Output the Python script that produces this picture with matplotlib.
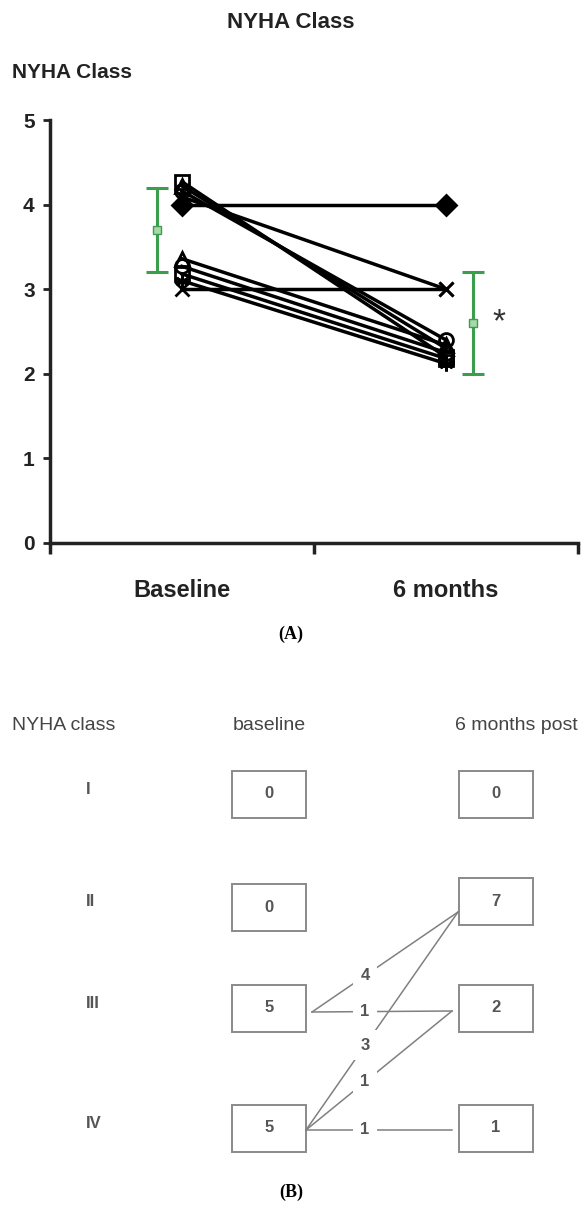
import numpy as np
import matplotlib.pyplot as plt
from matplotlib.patches import Rectangle

plt.rcParams['font.family'] = ['Liberation Sans', 'DejaVu Sans']

# Panel A: individual NYHA class, baseline vs 6 months (points offset so lines stay visible)
baseline_vals = [4.00, 4.09, 4.16, 4.22, 4.27, 3.00, 3.10, 3.18, 3.27, 3.36]
month6_vals = [4.00, 3.00, 2.40, 2.30, 2.20, 3.00, 2.12, 2.18, 2.25, 2.34]
markers = ['D', 'x', 'o', '^', 's', 'x', (6, 2, 0), 's', 'o', '^']
group_labels = ['Baseline', '6 months']
mean_vals = [3.7, 2.6]
sd_vals = [0.5, 0.6]

# Panel B: NYHA class counts and shifts between visits
classes = ['I', 'II', 'III', 'IV']
baseline_counts = [0, 0, 5, 5]
post_counts = [0, 7, 2, 1]
# (baseline class index, 6-month class index, patients)
shifts = [(2, 1, 4), (2, 2, 1), (3, 1, 3), (3, 2, 1), (3, 3, 1)]

W, H = 584, 1209
fig = plt.figure(figsize=(W / 100, H / 100), dpi=100)

# ---- panel A ----
ax = fig.add_axes([50 / W, 1 - 543 / H, 528 / W, 423 / H])
for b, m, mk in zip(baseline_vals, month6_vals, markers):
    filled = mk == 'D'
    ax.plot([1, 2], [b, m], color='k', lw=2.5, marker=mk, ms=10,
            mfc='k' if filled else 'none', mec='k', mew=2, zorder=3)

green = '#3a9e4c'
ax.errorbar([0.905, 2.102], mean_vals, yerr=sd_vals, fmt='s', color=green,
            ms=6, mfc='#a8d8a8', mec=green, lw=2.2, capsize=8, capthick=2.2, zorder=4)
ax.text(2.2, mean_vals[1], '*', fontsize=24, color='#333333', ha='center', va='center')

ax.set_xlim(0.5, 2.5)
ax.set_ylim(0, 5)
for s in ['top', 'right']:
    ax.spines[s].set_visible(False)
for s in ['left', 'bottom']:
    ax.spines[s].set_linewidth(2.5)
    ax.spines[s].set_color('#222222')
ax.set_yticks(range(6))
ax.set_yticklabels([str(i) for i in range(6)], fontsize=15, fontweight='bold', color='#222222')
ax.tick_params(axis='y', length=5, width=2, pad=6, color='#222222')
ax.set_xticks([1, 2])
ax.set_xticklabels(group_labels, fontsize=17, fontweight='bold', color='#222222')
ax.set_xticks([0.5, 1.5, 2.5], minor=True)
ax.tick_params(axis='x', which='major', length=0, pad=26)
ax.tick_params(axis='x', which='minor', length=8, width=2.5, color='#222222')
ax.spines['bottom'].set_bounds(0.5, 2.5)

fig.text(291 / W, 1 - 22 / H, 'NYHA Class', fontsize=16, fontweight='bold',
         ha='center', va='center', color='#222222')
fig.text(12 / W, 1 - 73 / H, 'NYHA Class', fontsize=15, fontweight='bold',
         ha='left', va='center', color='#222222')
fig.text(291 / W, 1 - 634 / H, '(A)', fontsize=13, fontweight='bold',
         family='Liberation Serif', ha='center', va='center')

# ---- panel B ----
bx = fig.add_axes([0, 0, 1, 1], zorder=-1)
bx.set_xlim(0, W)
bx.set_ylim(H, 0)
bx.axis('off')

gray = '#555555'
bx.text(12, 726, 'NYHA class', fontsize=14, color='#444444', ha='left', va='center')
bx.text(269, 726, 'baseline', fontsize=14, color='#444444', ha='center', va='center')
bx.text(455, 726, '6 months post', fontsize=14, color='#444444', ha='left', va='center')

row_y_left = [794, 907, 1008, 1128]
row_y_right = [794, 901, 1008, 1128]
left_x, right_x = 269, 495.5
box_w, box_h = 74, 47

for i, c in enumerate(classes):
    bx.text(86, row_y_left[i] - 5, c, fontsize=12, fontweight='bold', color='#555555',
            ha='left', va='center')
    for cx, cy, n in [(left_x, row_y_left[i], baseline_counts[i]),
                      (right_x, row_y_right[i], post_counts[i])]:
        bx.add_patch(Rectangle((cx - box_w / 2, cy - box_h / 2), box_w, box_h,
                               fill=False, ec='#8a8a8a', lw=1.4))
        bx.text(cx, cy, str(n), fontsize=12, fontweight='bold', color=gray,
                ha='center', va='center')

# line anchor points on the boxes
src_anchor = {2: (312, 1012), 3: (306, 1130)}
dst_anchor = {1: (458, 912), 2: (452, 1011), 3: (452, 1130)}
lab_x = 365
for fr, to, n in shifts:
    x0, y0 = src_anchor[fr]
    x1, y1 = dst_anchor[to]
    bx.plot([x0, x1], [y0, y1], color='#808080', lw=1.1)
    ly = y0 + (y1 - y0) * (lab_x - x0) / (x1 - x0)
    bx.text(lab_x, ly, str(n), fontsize=12, fontweight='bold', color=gray,
            ha='center', va='center',
            bbox=dict(boxstyle='square,pad=0.45', fc='white', ec='none'))

bx.text(291, 1192, '(B)', fontsize=13, fontweight='bold', family='Liberation Serif',
        ha='center', va='center')

fig.savefig('out.png', dpi=100)
